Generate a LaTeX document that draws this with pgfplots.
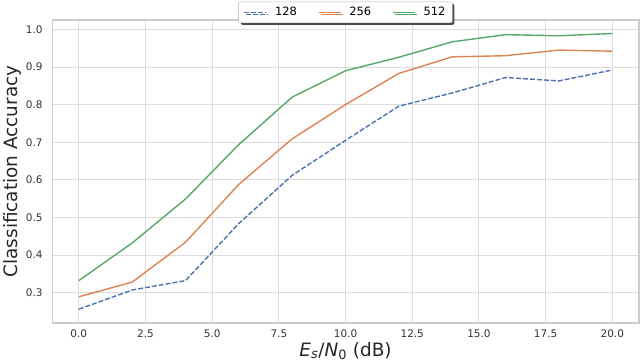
\documentclass[border=0pt]{standalone}
\usepackage{pgfplots}
\pgfplotsset{compat=1.18}
\usepackage{fontspec}
\setmainfont{DejaVu Sans}
\usetikzlibrary{shadows}

\definecolor{sbblue}{HTML}{4C72B0}
\definecolor{sborange}{HTML}{DD8452}
\definecolor{sbgreen}{HTML}{55A868}
\definecolor{gridgray}{HTML}{DCDCDC}
\definecolor{framegray}{HTML}{CCCCCC}

\begin{document}
\begin{tikzpicture}[x=1bp,y=1bp]
\begin{axis}[
  scale only axis,
  width=587bp,
  height=303bp,
  xmin=-1, xmax=21,
  ymin=0.2195, ymax=1.025,
  xtick={0,2.5,...,20},
  ytick={0.3,0.4,...,1.0},
  grid=major,
  major grid style={gridgray, line width=0.9pt},
  axis line style={framegray, line width=1.2pt},
  major tick length=0pt,
  tick label style={font=\fontsize{10.5}{12}\selectfont, text=black!80},
  /pgf/number format/assume math mode=true,
  xticklabel={\pgfmathprintnumber[fixed,precision=1,zerofill]{\tick}},
  yticklabel={\pgfmathprintnumber[fixed,precision=1,zerofill]{\tick}},
  xticklabel style={yshift=-3pt},
  yticklabel style={xshift=-6pt},
  xlabel={\textit{E}\textsubscript{\textit{s}}/\textit{N}\textsubscript{0} (dB)},
  ylabel={Classification Accuracy},
  label style={font=\fontsize{18.5}{20}\selectfont, text=black!85},
  xlabel style={yshift=2pt},
  ylabel style={yshift=-2pt},
  legend columns=3,
  legend style={at={(0.5,1)}, anchor=south, yshift=-3bp,
    font=\fontsize{11.5}{13}\selectfont, draw=gray!60, fill=white,
    rounded corners=2pt,
    drop shadow={shadow xshift=2pt, shadow yshift=-2pt, fill=black!70, opacity=1},
    /tikz/every odd column/.append style={column sep=6pt},
    /tikz/every even column/.append style={column sep=19pt},
    inner xsep=5pt, inner ysep=3.5pt},
  legend image post style={xscale=1.3},
  every axis plot/.append style={line width=1.4pt},
]
\addplot[sbblue, dash pattern=on 5pt off 2pt] coordinates {
(0,0.256) (2,0.307) (4,0.332) (6,0.484) (8,0.612) (10,0.705) (12,0.796) (14,0.831) (16,0.872) (18,0.863) (20,0.892)};
\addlegendentry{128}
\addplot[sborange] coordinates {
(0,0.289) (2,0.328) (4,0.434) (6,0.588) (8,0.709) (10,0.800) (12,0.883) (14,0.927) (16,0.930) (18,0.945) (20,0.942)};
\addlegendentry{256}
\addplot[sbgreen] coordinates {
(0,0.332) (2,0.432) (4,0.549) (6,0.694) (8,0.820) (10,0.890) (12,0.926) (14,0.967) (16,0.986) (18,0.983) (20,0.989)};
\addlegendentry{512}
\end{axis}
\path (current axis.east) ++(1bp,0);
\path (current axis.north) ++(0,20bp);
\end{tikzpicture}
\end{document}
